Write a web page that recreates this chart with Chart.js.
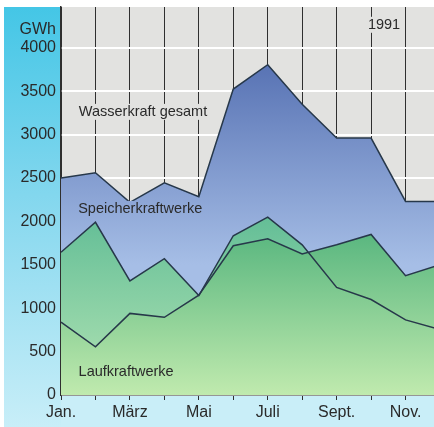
<!DOCTYPE html>
<html>
<head>
<meta charset="utf-8">
<script src="https://cdn.jsdelivr.net/npm/chart.js@4"></script>
<style>
  html, body { margin: 0; padding: 0; background: #fff; overflow: hidden; }
  #wrap { width: 440px; height: 427px; }
</style>
</head>
<body>
<div id="wrap"><canvas id="chart" width="440" height="427"></canvas></div>
<script>
// Monthly hydro production 1991 (GWh)
const monthLabels = ['Jan.', '', 'März', '', 'Mai', '', 'Juli', '', 'Sept.', '', 'Nov.', ''];
const gesamt = [2500, 2560, 2220, 2445, 2285, 3525, 3805, 3350, 2960, 2960, 2230, 2230];
const speicher = [1645, 1990, 1315, 1570, 1145, 1835, 2050, 1730, 1240, 1100, 865, 755];
const lauf = [840, 555, 940, 895, 1150, 1720, 1800, 1625, 1730, 1850, 1375, 1500];
const yTicks = [0, 500, 1000, 1500, 2000, 2500, 3000, 3500, 4000];

const FONT = '"Liberation Sans", Arial, sans-serif';
const TEXT = '#2a2a2a';
const LINE = '#27384a';
const GREY = '#e2e2e0';

// vertical gradient helper, stops given in data values
function grad(chart, topVal, topCol, botVal, botCol) {
    if (!chart.chartArea) return topCol;
    const y = chart.scales.y;
    const g = chart.ctx.createLinearGradient(0, y.getPixelForValue(topVal), 0, y.getPixelForValue(botVal));
    g.addColorStop(0, topCol);
    g.addColorStop(1, botCol);
    return g;
}
const blueFill = chart => grad(chart, 3900, '#5570b2', 1500, '#a6bee6');
const tealFill = chart => grad(chart, 2100, '#62bd96', 0, '#b2e4b4');
const greenFill = chart => grad(chart, 2000, '#52b37c', 0, '#c0eaae');

const backdrop = {
    id: 'backdrop',
    beforeDraw(chart) {
        const c = chart.ctx;
        const a = chart.chartArea;
        c.save();
        c.fillStyle = '#fff';
        c.fillRect(0, 0, chart.width, chart.height);
        // cyan strip on the left
        const g = c.createLinearGradient(0, a.top, 0, chart.height);
        g.addColorStop(0, '#44c6e6');
        g.addColorStop(0.5, '#8ad9ef');
        g.addColorStop(1, '#c8eef8');
        c.fillStyle = g;
        c.fillRect(4, a.top, a.left - 4, chart.height - a.top);
        c.fillStyle = '#c9eef8';
        c.fillRect(a.left, a.bottom, chart.width - a.left, chart.height - a.bottom);
        // grey plot background
        c.fillStyle = GREY;
        c.fillRect(a.left, a.top, a.right - a.left, a.bottom - a.top);
        c.restore();
    }
};

const labels = {
    id: 'labels',
    afterDraw(chart) {
        const c = chart.ctx;
        const x = chart.scales.x, y = chart.scales.y;
        c.save();
        c.textBaseline = 'middle';
        c.fillStyle = TEXT;
        c.font = '16px ' + FONT;
        c.textAlign = 'right';
        c.fillText('GWh', chart.chartArea.left - 5, y.getPixelForValue(4210));
        c.font = '14.5px ' + FONT;
        c.textAlign = 'center';
        const items = [
            ['Wasserkraft gesamt', 2.38, 3262, GREY],
            ['Speicherkraftwerke', 2.30, 2144, blueFill(chart)],
            ['Laufkraftwerke', 1.89, 265, greenFill(chart)],
            ['1991', 9.375, 4265, GREY]
        ];
        items.forEach(([t, xi, yv, bg]) => {
            const px = x.getPixelForValue(xi), py = y.getPixelForValue(yv);
            const w = c.measureText(t).width + 6;
            c.fillStyle = bg;
            c.fillRect(px - w / 2, py - 8, w, 16);
            c.fillStyle = TEXT;
            c.fillText(t, px, py);
        });
        c.restore();
    }
};

new Chart(document.getElementById('chart'), {
    type: 'line',
    data: {
        labels: monthLabels,
        datasets: [
            {
                label: 'Laufkraftwerke',
                data: lauf,
                fill: 'origin',
                borderColor: LINE,
                borderWidth: 1.5,
                pointRadius: 0,
                backgroundColor: ctx => greenFill(ctx.chart)
            },
            {
                label: 'Speicherkraftwerke',
                data: speicher,
                fill: 'origin',
                borderColor: LINE,
                borderWidth: 1.5,
                pointRadius: 0,
                backgroundColor: ctx => tealFill(ctx.chart)
            },
            {
                label: 'Wasserkraft gesamt',
                data: gesamt,
                fill: 'origin',
                borderColor: LINE,
                borderWidth: 1.5,
                pointRadius: 0,
                backgroundColor: ctx => blueFill(ctx.chart)
            }
        ]
    },
    options: {
        responsive: false,
        animation: false,
        devicePixelRatio: 1,
        layout: { padding: { top: 7, left: 0, right: 0, bottom: 0 } },
        plugins: {
            legend: { display: false },
            tooltip: { enabled: false },
            filler: { drawTime: 'beforeDatasetsDraw' }
        },
        scales: {
            x: {
                z: 1,
                offset: false,
                grid: { color: '#2f2f2f', lineWidth: 1, offset: false, drawTicks: true, tickLength: 5 },
                border: { color: '#2f2f2f', width: 1.5 },
                ticks: {
                    autoSkip: false,
                    maxRotation: 0,
                    padding: 3,
                    color: TEXT,
                    font: { family: FONT, size: 16 },
                    callback: (v, i) => monthLabels[i]
                },
                afterFit: s => { s.height = 32; s.paddingLeft = 0; s.paddingRight = 0; }
            },
            y: {
                z: 1,
                min: 0,
                max: 4470,
                afterBuildTicks: s => { s.ticks = yTicks.map(v => ({ value: v })); },
                grid: { color: '#ffffff', lineWidth: 2, drawTicks: false },
                border: { color: '#2f2f2f', width: 1.5 },
                ticks: {
                    padding: 5,
                    color: TEXT,
                    font: { family: FONT, size: 16 },
                    callback: v => String(v)
                },
                afterFit: s => { s.width = 61; s.paddingTop = 0; s.paddingBottom = 0; }
            }
        }
    },
    plugins: [backdrop, labels]
});
</script>
</body>
</html>
